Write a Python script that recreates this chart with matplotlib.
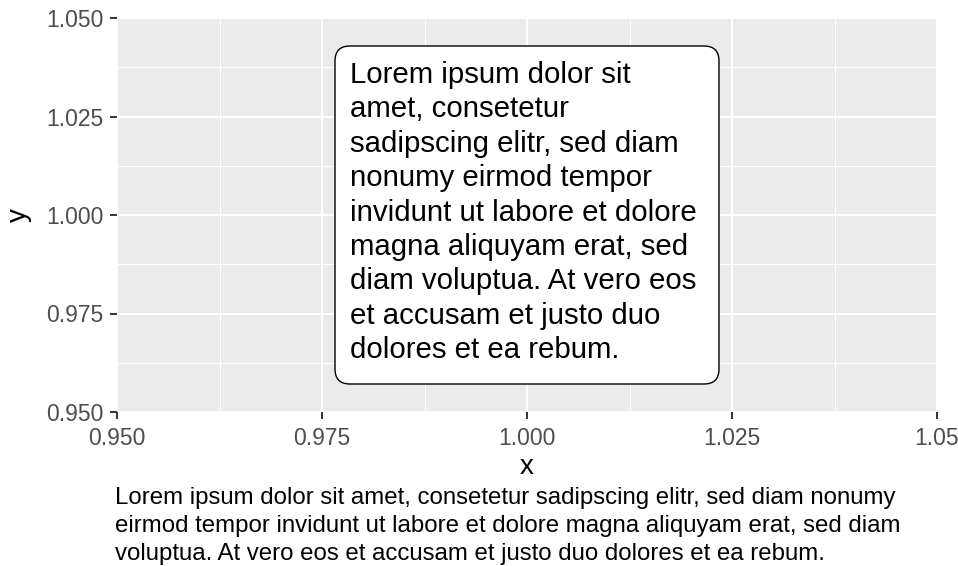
import matplotlib
matplotlib.use("Agg")
import matplotlib.pyplot as plt
from matplotlib.patches import FancyBboxPatch

plt.rcParams['font.family'] = ['Liberation Sans', 'DejaVu Sans']

x_ticks = [0.950, 0.975, 1.000, 1.025, 1.050]
x_tick_labels = ["0.950", "0.975", "1.000", "1.025", "1.05"]
y_ticks = [0.950, 0.975, 1.000, 1.025, 1.050]
y_tick_labels = ["0.950", "0.975", "1.000", "1.025", "1.050"]
minor_ticks = [0.9625, 0.9875, 1.0125, 1.0375]
box_x = 1.0
box_y = 1.0
box_lines = [
    "Lorem ipsum dolor sit",
    "amet, consetetur",
    "sadipscing elitr, sed diam",
    "nonumy eirmod tempor",
    "invidunt ut labore et dolore",
    "magna aliquyam erat, sed",
    "diam voluptua. At vero eos",
    "et accusam et justo duo",
    "dolores et ea rebum.",
]
caption_lines = [
    "Lorem ipsum dolor sit amet, consetetur sadipscing elitr, sed diam nonumy",
    "eirmod tempor invidunt ut labore et dolore magna aliquyam erat, sed diam",
    "voluptua. At vero eos et accusam et justo duo dolores et ea rebum.",
]

W, H = 958, 566
fig = plt.figure(figsize=(W / 100, H / 100), dpi=100)
L, R, T, B = 117, 937, 18, 412
ax = fig.add_axes([L / W, (H - B) / H, (R - L) / W, (B - T) / H])
ax.set_facecolor('#EBEBEB')
ax.set_xlim(0.950, 1.050)
ax.set_ylim(0.950, 1.050)
for s in ax.spines.values():
    s.set_visible(False)

for m in minor_ticks:
    ax.axvline(m, color='white', lw=0.75, zorder=0.5)
    ax.axhline(m, color='white', lw=0.75, zorder=0.5)
for t in x_ticks:
    ax.axvline(t, color='white', lw=1.5, zorder=0.6)
for t in y_ticks:
    ax.axhline(t, color='white', lw=1.5, zorder=0.6)

ax.set_xticks(x_ticks)
ax.set_xticklabels(x_tick_labels)
ax.set_yticks(y_ticks)
ax.set_yticklabels(y_tick_labels)
ax.tick_params(axis='both', length=5, width=1.4, color='#333333',
               labelcolor='#4D4D4D', labelsize=16.5)
ax.tick_params(axis='x', pad=6)
ax.tick_params(axis='y', pad=4.5)
ax.set_xlabel('x', fontsize=20, labelpad=3)
ax.set_ylabel('y', fontsize=20, labelpad=10.5)

# box geometry in pixels
px_x = (R - L) / 0.1
px_y = (B - T) / 0.1
bw, bh, rad = 384, 338, 15
x0 = box_x - bw / 2 / px_x
y0 = box_y - bh / 2 / px_y
patch = FancyBboxPatch((x0, y0), bw / px_x, bh / px_y,
                       boxstyle=f"round,pad=0,rounding_size={rad / px_x}",
                       mutation_aspect=px_x / px_y,
                       facecolor='white', edgecolor='black', lw=1.0, zorder=3)
ax.add_patch(patch)
box_left_px = L + (box_x - 0.95) * px_x - bw / 2
box_top_px = T + (1.05 - box_y) * px_y - bh / 2
first_base = box_top_px + 37
for i, line in enumerate(box_lines):
    ypx = first_base + i * 34.4
    fig.text((box_left_px + 15) / W, 1 - ypx / H, line, ha='left', va='baseline',
             fontsize=21.2, color='black', zorder=4)

for i, line in enumerate(caption_lines):
    ypx = 504 + i * 28
    fig.text(115 / W, 1 - ypx / H, line, ha='left', va='baseline',
             fontsize=17.3, color='black')

fig.savefig('out.png', dpi=100)
